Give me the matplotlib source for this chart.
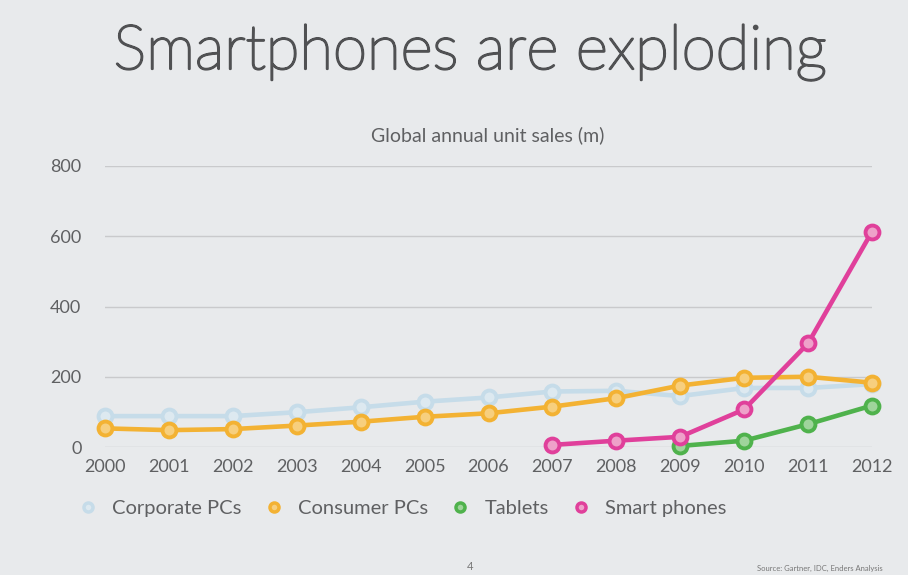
import matplotlib

matplotlib.use('Agg')
import matplotlib.pyplot as plt
import matplotlib.patheffects as pe
from matplotlib.lines import Line2D
import numpy as np

# Global annual unit sales (millions)
years = list(range(2000, 2013))
corporate_pcs = [88, 88, 88, 99, 113, 129, 141, 158, 160, 145, 168, 168, 179]
consumer_pcs = [53, 48, 51, 61, 72, 86, 96, 115, 139, 175, 197, 200, 183]
tablet_years = [2009, 2010, 2011, 2012]
tablets = [3, 18, 65, 118]
phone_years = [2007, 2008, 2009, 2010, 2011, 2012]
smart_phones = [6, 18, 29, 107, 295, 613]

series = [
    ('Corporate PCs', years, corporate_pcs, '#c6dce9', '#dde9f0'),
    ('Consumer PCs', years, consumer_pcs, '#f3b233', '#f7cf7e'),
    ('Tablets', tablet_years, tablets, '#4fb24c', '#9fd49b'),
    ('Smart phones', phone_years, smart_phones, '#e0409b', '#eea1c9'),
]

plt.rcParams['font.family'] = ['Lato', 'DejaVu Sans']
BG = '#e8eaec'
TEXT = '#5f6062'

fig = plt.figure(figsize=(9.14, 5.75), dpi=100)
fig.patch.set_facecolor(BG)
# white strip along the right edge of the slide
fig.patches.append(plt.Rectangle((0.993, 0), 0.007, 1, transform=fig.transFigure,
                                 facecolor='white', edgecolor='none'))

ax = fig.add_axes([105 / 914, 1 - 447 / 575, (872 - 105) / 914, (447 - 166) / 575])
ax.set_facecolor(BG)
ax.set_xlim(2000, 2012)
ax.set_ylim(0, 800)
for s in ax.spines.values():
    s.set_visible(False)
ax.set_yticks([0, 200, 400, 600, 800])
ax.set_xticks(years)
ax.grid(axis='y', color='#c9cacc', linewidth=1)
ax.set_axisbelow(True)
ax.tick_params(length=0, colors=TEXT, labelsize=13)
ax.tick_params(axis='y', pad=17)
ax.tick_params(axis='x', pad=9)

for label, xs, ys, color, fill in series:
    ax.plot(xs, ys, color=color, linewidth=3.3, marker='o', markersize=10,
            markerfacecolor=fill, markeredgecolor=color, markeredgewidth=2.8,
            clip_on=False, zorder=3)

handles = [Line2D([], [], linestyle='none', marker='o', markersize=6.5,
                  markerfacecolor=fill, markeredgecolor=color, markeredgewidth=2.5,
                  label=label) for label, xs, ys, color, fill in series]
fig.legend(handles=handles, loc='center left', bbox_to_anchor=(78 / 914, 1 - 508 / 575),
           ncol=4, frameon=False, fontsize=14.5, labelcolor=TEXT,
           borderpad=0, borderaxespad=0,
           handletextpad=0.7, columnspacing=1.1, handlelength=1.0)

title = fig.text(469.5 / 914, 1 - 69 / 575, 'Smartphones are exploding', ha='center',
                 va='baseline', fontsize=44.5, color='#505153', fontweight='light')
title.set_path_effects([pe.withStroke(linewidth=1.6, foreground='#505153')])
fig.text(488 / 914, 1 - 141 / 575, 'Global annual unit sales (m)', ha='center', va='baseline',
         fontsize=14, color=TEXT)
fig.text(470 / 914, 1 - 566 / 575, '4', ha='center', va='center', fontsize=8, color='#777777')
fig.text(757 / 914, 1 - 568 / 575, 'Source: Gartner, IDC, Enders Analysis', ha='left',
         va='center', fontsize=5.5, color='#777777')

fig.savefig('out.png', dpi=100, facecolor=fig.get_facecolor())
